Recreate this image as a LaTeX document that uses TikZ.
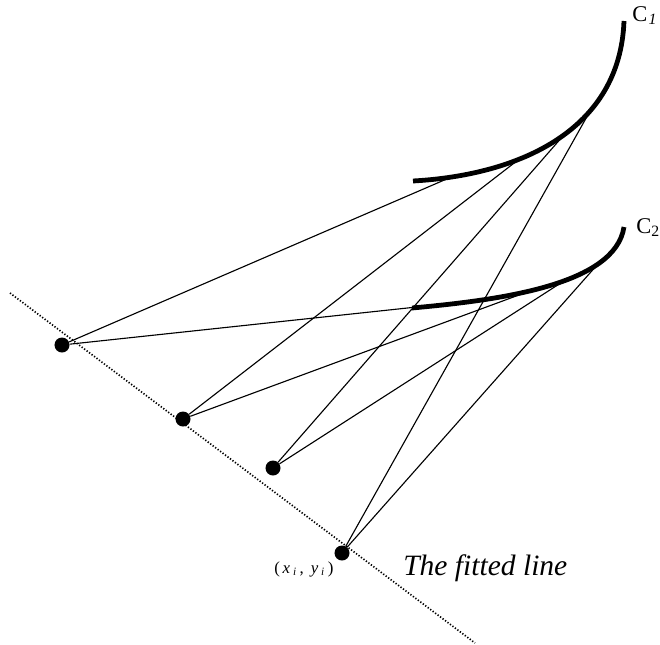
\documentclass[tikz,border=0pt]{standalone}
\usepackage{fontspec}
\setmainfont{Liberation Serif}
\usetikzlibrary{calc}

\begin{document}
\begin{tikzpicture}[x=0.025cm,y=-0.025cm,
        pt/.style={circle,fill=black,inner sep=0pt,minimum size=0.375cm},
        ray/.style={line width=0.8pt},
        arcline/.style={line width=3.4pt},
        fitline/.style={line width=1.2pt,dash pattern=on 0.9pt off 1.3pt}]
          \useasboundingbox (0,0) rectangle (660,645);
          \draw[arcline] (413,181) .. controls (520,175) and (620,130) .. (624,21)
                coordinate[pos=0.12] (a1) coordinate[pos=0.35] (a2)
                coordinate[pos=0.53] (a3) coordinate[pos=0.66] (a4);
          \draw[arcline] (412,308) .. controls (500,300) and (615,285) .. (624,227)
                coordinate[pos=0.25] (b1) coordinate[pos=0.43] (b2)
                coordinate[pos=0.57] (b3) coordinate[pos=0.74] (b4);
           \coordinate (f0) at (10,293);
           \coordinate (f1) at (475,643);
           \draw[fitline] (f0) -- (f1);
           \node[pt] (p1) at (62,345) {};
           \node[pt] (p2) at (183,419) {};
           \node[pt] (p3) at (273,468) {};
           \node[pt] (p4) at (342,553) {};
             \draw[ray] (p1) -- (a1);
             \draw[ray] (p1) -- (b1);
             \draw[ray] (p2) -- (a2);
             \draw[ray] (p2) -- (b2);
             \draw[ray] (p3) -- (a3);
             \draw[ray] (p3) -- (b3);
             \draw[ray] (p4) -- (a4);
             \draw[ray] (p4) -- (b4);
           \node[anchor=base west,inner sep=0pt,font=\fontsize{16}{19}\selectfont] (c1lab) at (632,21) {C\kern1pt\textsubscript{\itshape 1}};
           \node[anchor=base west,inner sep=0pt,font=\fontsize{16}{19}\selectfont] (c2lab) at (636,233) {C\textsubscript{2}};
           \node[anchor=base west,inner sep=0pt,font=\fontsize{21}{25}\selectfont\itshape] (fitlab) at (403,575) {The fitted line};
           \node[anchor=base west,inner sep=0pt,font=\fontsize{12}{14}\selectfont] (xylab) at (274,573) {(\,\textit{x}\,\textsubscript{\itshape i}\,, \,\textit{y}\,\textsubscript{\itshape i}\,)};
\end{tikzpicture}
\end{document}
